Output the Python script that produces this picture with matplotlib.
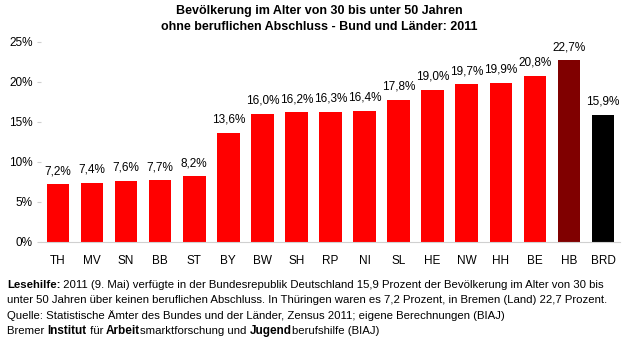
import matplotlib
matplotlib.use("Agg")
import matplotlib.pyplot as plt

plt.rcParams['font.family'] = ['Liberation Sans', 'DejaVu Sans']

laender = ["TH", "MV", "SN", "BB", "ST", "BY", "BW", "SH", "RP", "NI",
           "SL", "HE", "NW", "HH", "BE", "HB", "BRD"]
anteile = [7.2, 7.4, 7.6, 7.7, 8.2, 13.6, 16.0, 16.2, 16.3, 16.4,
           17.8, 19.0, 19.7, 19.9, 20.8, 22.7, 15.9]
farben = ["#ff0000"] * 15 + ["#800000", "#000000"]
y_ticks = [0, 5, 10, 15, 20, 25]

fig = plt.figure(figsize=(6.38, 3.38), dpi=100)
ax = fig.add_axes([41 / 638, 1 - 242 / 338, 579 / 638, 200 / 338])

pos = range(len(laender))
ax.bar(pos, anteile, width=0.66, color=farben)
for x, v in zip(pos, anteile):
    ax.text(x, v + 0.9, ("%.1f%%" % v).replace(".", ","), ha="center",
            va="bottom", fontsize=8.5)

ax.set_xlim(-0.5, len(laender) - 0.5)
ax.set_ylim(0, 25)
ax.set_yticks(y_ticks)
ax.set_yticklabels(["%d%%" % t for t in y_ticks], fontsize=8.5)
ax.set_xticks(list(pos))
ax.set_xticklabels(laender, fontsize=8.5)
ax.tick_params(axis="x", length=0, pad=9)
ax.tick_params(axis="y", length=3, color="#d0d0d0", pad=3)
for s in ["top", "right", "left"]:
    ax.spines[s].set_visible(False)
ax.spines["bottom"].set_color("#d0d0d0")

fig.text(0.5, 1 - 11 / 338, "Bevölkerung im Alter von 30 bis unter 50 Jahren",
         ha="center", va="center", fontsize=9, fontweight="bold")
fig.text(0.5, 1 - 27 / 338, "ohne beruflichen Abschluss - Bund und Länder: 2011",
         ha="center", va="center", fontsize=9, fontweight="bold")


def zeile(teile, y, x0=7):
    # Textstücke nacheinander setzen (fett / normal gemischt)
    r = fig.canvas.get_renderer()
    x = x0
    for txt, fett, gr in teile:
        t = fig.text(x / 638, 1 - y / 338, txt, ha="left", va="center",
                     fontsize=gr, fontweight="bold" if fett else "normal")
        x += t.get_window_extent(renderer=r).width


zeile([("Lesehilfe:", True, 8.2), (" 2011 (9. Mai) verfügte in der Bundesrepublik Deutschland 15,9 Prozent der Bevölkerung im Alter von 30 bis", False, 8.2)], 285)
zeile([("unter 50 Jahren über keinen beruflichen Abschluss. In Thüringen waren es 7,2 Prozent, in Bremen (Land) 22,7 Prozent.", False, 8.2)], 300)
zeile([("Quelle: Statistische Ämter des Bundes und der Länder, Zensus 2011; eigene Berechnungen (BIAJ)", False, 8.2)], 316)
zeile([("Bremer ", False, 8.2), ("Institut", True, 8.5), (" für ", False, 8.2), ("Arbeit", True, 8.5),
       ("smarktforschung und ", False, 8.2), ("Jugend", True, 8.5), ("berufshilfe (BIAJ)", False, 8.2)], 331)

fig.savefig("out.png", dpi=100)
